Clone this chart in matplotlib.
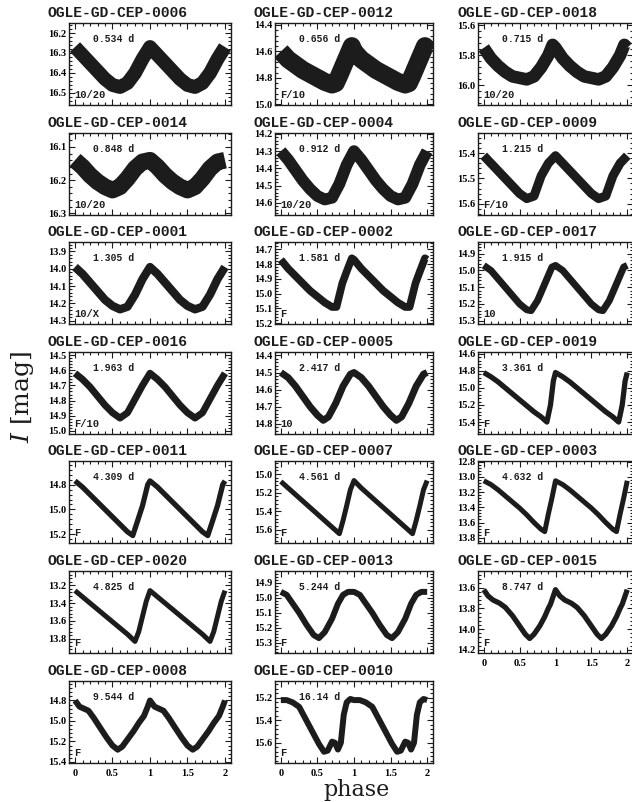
import numpy as np
import matplotlib.pyplot as plt
from matplotlib.ticker import MultipleLocator, AutoMinorLocator, FormatStrFormatter, FuncFormatter

plt.rcParams['mathtext.fontset'] = 'dejavuserif'

W, H = 632, 802

# star names, periods and pulsation modes, row by row
names = ['0006', '0012', '0018', '0014', '0004', '0009', '0001', '0002', '0017',
         '0016', '0005', '0019', '0011', '0007', '0003', '0020', '0013', '0015',
         '0008', '0010']
periods = ['0.534', '0.656', '0.715', '0.848', '0.912', '1.215', '1.305', '1.581',
           '1.915', '1.963', '2.417', '3.361', '4.309', '4.561', '4.632', '4.825',
           '5.244', '8.747', '9.544', '16.14']
modes = ['10/20', 'F/10', '10/20', '10/20', '10/20', 'F/10', '10/X', 'F', '10',
         'F/10', '10', 'F', 'F', 'F', 'F', 'F', 'F', 'F', 'F', 'F']

# y axis ranges (faint, bright) and major tick step
y_faint = [16.56, 15.005, 16.13, 16.305, 14.67, 15.645, 14.32, 15.205, 15.32,
           15.02, 14.86, 15.54, 15.27, 15.74, 13.87, 13.96, 15.37, 14.23, 15.41, 15.78]
y_bright = [16.15, 14.385, 15.585, 16.058, 14.195, 15.32, 13.845, 14.65, 14.83,
            14.48, 14.38, 14.58, 14.61, 14.86, 12.79, 13.04, 14.82, 13.44, 14.61, 15.05]
y_step = [0.1, 0.2, 0.2, 0.1, 0.1, 0.1, 0.1, 0.1, 0.1,
          0.1, 0.1, 0.2, 0.2, 0.2, 0.2, 0.2, 0.1, 0.2, 0.2, 0.2]

# light curves, one cycle (plotted at phase and phase+1)
ph_0006 = [0, 0.1, 0.2, 0.3, 0.4, 0.5, 0.6, 0.7, 0.8, 0.9, 1.0]
mag_0006 = [16.27, 16.31, 16.35, 16.39, 16.43, 16.46, 16.47, 16.45, 16.40, 16.33, 16.27]
ph_0012 = [0, 0.1, 0.2, 0.3, 0.4, 0.5, 0.6, 0.7, 0.75, 0.8, 0.9, 0.97, 1.0]
mag_0012 = [14.60, 14.66, 14.70, 14.74, 14.77, 14.80, 14.83, 14.85, 14.84, 14.78, 14.65, 14.56, 14.60]
ph_0018 = [0, 0.1, 0.2, 0.3, 0.4, 0.5, 0.6, 0.7, 0.8, 0.9, 0.96, 1.0]
mag_0018 = [15.75, 15.82, 15.87, 15.91, 15.94, 15.95, 15.96, 15.94, 15.88, 15.80, 15.73, 15.75]
ph_0014 = [0, 0.1, 0.2, 0.3, 0.4, 0.5, 0.6, 0.7, 0.8, 0.9, 1.0]
mag_0014 = [16.14, 16.16, 16.185, 16.205, 16.22, 16.23, 16.22, 16.195, 16.165, 16.145, 16.14]
ph_0004 = [0, 0.1, 0.2, 0.3, 0.4, 0.5, 0.6, 0.7, 0.8, 0.9, 1.0]
mag_0004 = [14.30, 14.35, 14.41, 14.47, 14.52, 14.56, 14.58, 14.57, 14.49, 14.38, 14.30]
ph_0009 = [0, 0.1, 0.2, 0.3, 0.4, 0.5, 0.6, 0.7, 0.8, 0.9, 1.0]
mag_0009 = [15.41, 15.44, 15.47, 15.50, 15.53, 15.56, 15.58, 15.57, 15.49, 15.44, 15.41]
ph_0001 = [0, 0.1, 0.2, 0.3, 0.4, 0.5, 0.6, 0.7, 0.8, 0.9, 1.0]
mag_0001 = [13.99, 14.03, 14.08, 14.13, 14.18, 14.215, 14.235, 14.22, 14.15, 14.06, 13.99]
ph_0002 = [0, 0.1, 0.2, 0.3, 0.4, 0.5, 0.6, 0.7, 0.76, 0.84, 0.9, 0.97, 1.0]
mag_0002 = [14.77, 14.83, 14.88, 14.93, 14.98, 15.02, 15.06, 15.09, 15.09, 14.93, 14.85, 14.76, 14.77]
ph_0017 = [0, 0.1, 0.2, 0.3, 0.4, 0.5, 0.6, 0.66, 0.75, 0.85, 0.95, 1.0]
mag_0017 = [14.97, 15.00, 15.05, 15.10, 15.15, 15.20, 15.235, 15.24, 15.18, 15.08, 14.98, 14.97]
ph_0016 = [0, 0.1, 0.2, 0.3, 0.4, 0.5, 0.6, 0.7, 0.8, 0.9, 1.0]
mag_0016 = [14.62, 14.66, 14.71, 14.77, 14.83, 14.88, 14.915, 14.88, 14.79, 14.70, 14.62]
ph_0005 = [0, 0.1, 0.2, 0.3, 0.4, 0.5, 0.58, 0.65, 0.75, 0.85, 0.95, 1.0]
mag_0005 = [14.50, 14.53, 14.58, 14.64, 14.70, 14.75, 14.78, 14.76, 14.68, 14.58, 14.51, 14.50]
ph_0019 = [0, 0.1, 0.2, 0.3, 0.4, 0.5, 0.6, 0.7, 0.8, 0.88, 0.93, 0.97, 1.0]
mag_0019 = [14.82, 14.87, 14.93, 15.00, 15.07, 15.14, 15.21, 15.28, 15.34, 15.40, 15.20, 14.92, 14.82]
ph_0011 = [0, 0.1, 0.2, 0.3, 0.4, 0.5, 0.6, 0.7, 0.77, 0.83, 0.9, 0.97, 1.0]
mag_0011 = [14.77, 14.82, 14.88, 14.94, 15.00, 15.06, 15.12, 15.18, 15.21, 15.10, 14.97, 14.80, 14.77]
ph_0007 = [0, 0.1, 0.2, 0.3, 0.4, 0.5, 0.6, 0.7, 0.8, 0.85, 0.9, 0.95, 1.0]
mag_0007 = [15.08, 15.15, 15.22, 15.29, 15.36, 15.43, 15.50, 15.57, 15.64, 15.50, 15.34, 15.17, 15.07]
ph_0003 = [0, 0.1, 0.2, 0.3, 0.4, 0.5, 0.6, 0.7, 0.8, 0.85, 0.9, 0.95, 1.0]
mag_0003 = [13.05, 13.10, 13.17, 13.25, 13.33, 13.41, 13.50, 13.60, 13.69, 13.72, 13.49, 13.28, 13.05]
ph_0020 = [0, 0.1, 0.2, 0.3, 0.4, 0.5, 0.6, 0.7, 0.8, 0.85, 0.9, 0.95, 1.0]
mag_0020 = [13.26, 13.33, 13.40, 13.47, 13.54, 13.61, 13.68, 13.75, 13.83, 13.72, 13.55, 13.38, 13.26]
ph_0013 = [0, 0.08, 0.15, 0.25, 0.35, 0.45, 0.52, 0.6, 0.7, 0.78, 0.85, 0.92, 1.0]
mag_0013 = [14.96, 14.98, 15.03, 15.10, 15.18, 15.25, 15.27, 15.23, 15.14, 15.04, 14.98, 14.96, 14.96]
ph_0015 = [0, 0.06, 0.13, 0.22, 0.3, 0.4, 0.5, 0.58, 0.64, 0.7, 0.78, 0.85, 0.9, 0.93, 0.96, 1.0]
mag_0015 = [13.62, 13.68, 13.72, 13.75, 13.79, 13.87, 13.97, 14.05, 14.09, 14.05, 13.97, 13.88, 13.80, 13.76, 13.70, 13.62]
ph_0008 = [0, 0.06, 0.12, 0.18, 0.25, 0.33, 0.42, 0.5, 0.57, 0.63, 0.7, 0.78, 0.85, 0.92, 0.97, 1.0]
mag_0008 = [14.80, 14.86, 14.88, 14.90, 14.97, 15.06, 15.16, 15.24, 15.28, 15.25, 15.18, 15.10, 15.02, 14.95, 14.86, 14.80]
ph_0010 = [0, 0.08, 0.16, 0.25, 0.34, 0.43, 0.52, 0.59, 0.64, 0.7, 0.74, 0.78, 0.82, 0.86, 0.9, 0.95, 1.0]
mag_0010 = [15.22, 15.22, 15.24, 15.28, 15.39, 15.50, 15.61, 15.68, 15.67, 15.59, 15.60, 15.66, 15.60, 15.35, 15.24, 15.21, 15.22]

curves = [(ph_0006, mag_0006), (ph_0012, mag_0012), (ph_0018, mag_0018),
          (ph_0014, mag_0014), (ph_0004, mag_0004), (ph_0009, mag_0009),
          (ph_0001, mag_0001), (ph_0002, mag_0002), (ph_0017, mag_0017),
          (ph_0016, mag_0016), (ph_0005, mag_0005), (ph_0019, mag_0019),
          (ph_0011, mag_0011), (ph_0007, mag_0007), (ph_0003, mag_0003),
          (ph_0020, mag_0020), (ph_0013, mag_0013), (ph_0015, mag_0015),
          (ph_0008, mag_0008), (ph_0010, mag_0010)]

# band thickness (points) - mimics the scatter of the data
band_lw = [10, 13, 9, 12, 8.5, 6.5, 6, 5.5, 5, 5, 5, 3.8, 3.8, 3.6, 3.6, 3.6,
           4.3, 3.8, 4.3, 4.3]

col_left = [69, 275, 478]
col_width = [162, 158, 155]
row_top = [23, 133, 242, 352, 461, 571, 681]
ax_h = 82
ink = '#1c1c1c'

fig = plt.figure(figsize=(W / 100, H / 100), dpi=100)

for i, name in enumerate(names):
    row, col = divmod(i, 3)
    x0, w, top = col_left[col], col_width[col], row_top[row]
    ax = fig.add_axes([x0 / W, 1 - (top + ax_h) / H, w / W, ax_h / H])

    ph, mag = curves[i]
    ph = np.array(ph)
    mag = np.array(mag)
    x = np.concatenate([ph, ph[1:] + 1])
    y = np.concatenate([mag, mag[1:]])
    ax.plot(x, y, color=ink, lw=band_lw[i], solid_capstyle='butt',
            solid_joinstyle='round')

    ax.set_xlim(-0.08, 2.08)
    ax.set_ylim(y_faint[i], y_bright[i])
    ax.xaxis.set_major_locator(MultipleLocator(0.5))
    ax.xaxis.set_minor_locator(MultipleLocator(0.1))
    ax.yaxis.set_major_locator(MultipleLocator(y_step[i]))
    ax.yaxis.set_minor_locator(AutoMinorLocator(5))
    ax.yaxis.set_major_formatter(FormatStrFormatter('%.1f'))
    ax.tick_params(which='both', direction='in', top=True, right=True,
                   width=0.8, color=ink, pad=2)
    ax.tick_params(which='major', length=4)
    ax.tick_params(which='minor', length=2)
    for sp in ax.spines.values():
        sp.set_linewidth(1.0)
        sp.set_color(ink)
    for lab in ax.get_yticklabels() + ax.get_xticklabels():
        lab.set_fontfamily('Liberation Serif')
        lab.set_fontweight('bold')
        lab.set_fontsize(7.5)

    last = (row == 6) or (row == 5 and col == 2)
    if last:
        ax.xaxis.set_major_formatter(FuncFormatter(lambda v, p: '%g' % v))
        ax.tick_params(axis='x', pad=4)
    else:
        ax.set_xticklabels([])

    ax.text(24 / w, 1 - 16 / ax_h, periods[i] + ' d', transform=ax.transAxes,
            family='Liberation Mono', weight='bold', fontsize=7, color=ink,
            ha='left', va='center')
    ax.text(5 / w, 10 / ax_h, modes[i], transform=ax.transAxes,
            family='Liberation Mono', weight='bold', fontsize=7.5, color=ink,
            ha='left', va='center')

    fig.text((x0 - 21) / W, 1 - (top - 10) / H, 'OGLE-GD-CEP-' + name,
             family='Liberation Mono', weight='bold', fontsize=10.5, color=ink,
             ha='left', va='center')

fig.text(22 / W, 1 - 397 / H, r'$I$ [mag]', family='DejaVu Serif', fontsize=18,
         rotation=90, ha='center', va='center', color=ink)
fig.text(357 / W, 1 - 790 / H, 'phase', family='DejaVu Serif', fontsize=16,
         ha='center', va='center', color=ink)

fig.savefig('out.png', dpi=100)
